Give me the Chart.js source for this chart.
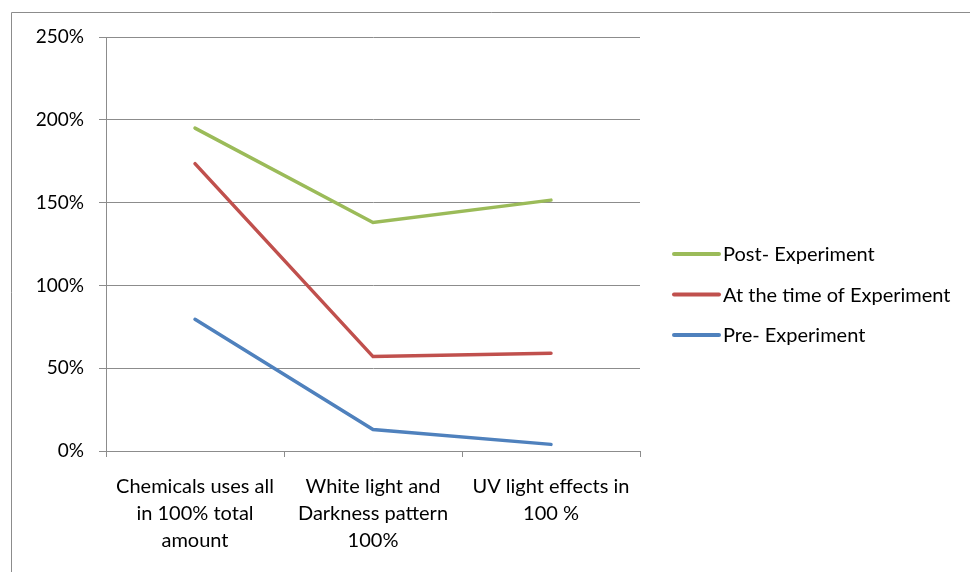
<!DOCTYPE html>
<html>
<head>
<meta charset="utf-8">
<script src="https://cdn.jsdelivr.net/npm/chart.js@4.4.0/dist/chart.umd.min.js"></script>
<style>
  html, body { margin: 0; padding: 0; background: #fff; }
  #wrap { width: 970px; height: 572px; position: relative; }
</style>
</head>
<body>
<div id="wrap"><canvas id="chart" width="970" height="572"></canvas></div>
<script>
const categories = [
  ['Chemicals uses all', 'in 100% total', 'amount'],
  ['White light and', 'Darkness pattern', '100%'],
  ['UV light effects in', '100 %']
];
const preExperiment = [79.5, 13, 4];
const duringExperiment = [173.5, 57, 59];
const postExperiment = [195, 138, 151.5];
const yTicks = [0, 50, 100, 150, 200, 250];

const FONT = 'Lato';
const GRID = '#8c8c8c';

// outer frame, cut off at the right and bottom edges
const framePlugin = {
  id: 'frame',
  beforeDraw(chart) {
    const ctx = chart.ctx;
    ctx.save();
    ctx.strokeStyle = '#8c8c8c';
    ctx.lineWidth = 1;
    ctx.beginPath();
    ctx.moveTo(11.5, 600);
    ctx.lineTo(11.5, 12.5);
    ctx.lineTo(1000, 12.5);
    ctx.stroke();
    ctx.restore();
  }
};

// legend on the right, series in reverse order
const legendPlugin = {
  id: 'sideLegend',
  afterDraw(chart) {
    const ctx = chart.ctx;
    const area = chart.chartArea;
    const sets = chart.data.datasets.slice().reverse();
    const x0 = area.right + 34;
    const rowGap = 40.5;
    const midY = 294.5;
    ctx.save();
    ctx.font = '20px ' + FONT;
    ctx.textBaseline = 'middle';
    sets.forEach((ds, i) => {
      const y = midY + (i - 1) * rowGap;
      ctx.strokeStyle = ds.borderColor;
      ctx.lineWidth = 4;
      ctx.lineCap = 'round';
      ctx.beginPath();
      ctx.moveTo(x0, y);
      ctx.lineTo(x0 + 45, y);
      ctx.stroke();
      ctx.fillStyle = '#000';
      ctx.fillText(ds.label, x0 + 49, y + 1);
    });
    ctx.restore();
  }
};

new Chart(document.getElementById('chart'), {
  type: 'line',
  data: {
    labels: categories,
    datasets: [
      { label: 'Pre- Experiment', data: preExperiment, borderColor: '#4F81BD' },
      { label: 'At the time of Experiment', data: duringExperiment, borderColor: '#C0504D' },
      { label: 'Post- Experiment', data: postExperiment, borderColor: '#9BBB59' }
    ]
  },
  options: {
    responsive: false,
    animation: false,
    devicePixelRatio: 1,
    layout: { padding: { left: 12, top: 37, right: 330, bottom: 0 } },
    elements: {
      line: { borderWidth: 3.5, tension: 0, borderCapStyle: 'round' },
      point: { radius: 0 }
    },
    plugins: {
      legend: { display: false },
      tooltip: { enabled: false }
    },
    scales: {
      x: {
        offset: true,
        grid: {
          offset: true,
          drawOnChartArea: false,
          color: GRID,
          tickLength: 6,
          tickColor: GRID
        },
        border: { color: GRID },
        ticks: {
          color: '#000',
          font: { family: FONT, size: 20, lineHeight: 1.35 },
          padding: 16,
          maxRotation: 0,
          autoSkip: false
        },
        afterFit(scale) { scale.height = 572 - 451; }
      },
      y: {
        min: 0,
        max: 250,
        afterBuildTicks(scale) { scale.ticks = yTicks.map(v => ({ value: v })); },
        grid: {
          color: GRID,
          tickLength: 7,
          tickColor: GRID
        },
        border: { color: GRID },
        ticks: {
          color: '#000',
          font: { family: FONT, size: 19 },
          padding: 15,
          callback: v => v + '%'
        },
        afterFit(scale) { scale.width = 106 - 12; }
      }
    }
  },
  plugins: [framePlugin, legendPlugin]
});
</script>
</body>
</html>
